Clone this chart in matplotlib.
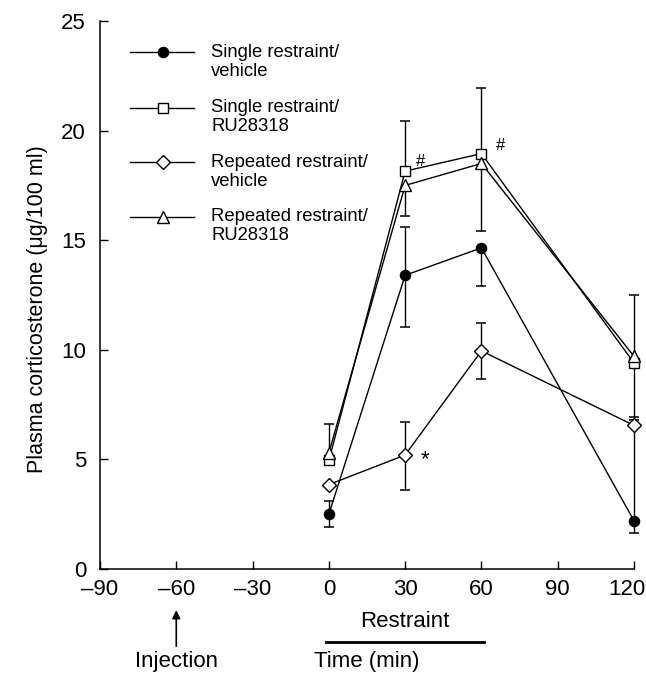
import matplotlib
matplotlib.use("Agg")
import matplotlib.pyplot as plt
import numpy as np

plt.rcParams['font.family'] = ['Liberation Sans', 'DejaVu Sans']

# ---- data ----
time_min = [0, 30, 60, 120]
single_vehicle = [2.5, 13.4, 14.65, 2.2]
single_vehicle_err_lo = [0.6, 2.35, 1.75, 0.55]
single_vehicle_err_hi = [0.6, 2.2, 0.0, 4.3]
single_ru = [4.95, 18.15, 18.95, 9.4]
single_ru_err_lo = [0.0, 0.0, 0.0, 0.0]
single_ru_err_hi = [0.0, 2.3, 3.0, 3.1]
repeated_vehicle = [3.85, 5.2, 9.95, 6.55]
repeated_vehicle_err_lo = [0.0, 1.6, 1.27, 0.0]
repeated_vehicle_err_hi = [0.0, 1.5, 1.28, 0.37]
repeated_ru = [5.3, 17.5, 18.5, 9.7]
repeated_ru_err_lo = [0.0, 1.4, 3.1, 2.9]
repeated_ru_err_hi = [1.3, 0.0, 0.0, 0.0]

labels = ["Single restraint/\nvehicle", "Single restraint/\nRU28318",
          "Repeated restraint/\nvehicle", "Repeated restraint/\nRU28318"]
xticks = [-90, -60, -30, 0, 30, 60, 90, 120]
xticklabels = ["\u201390", "\u201360", "\u201330", "0", "30", "60", "90", "120"]
yticks = [0, 5, 10, 15, 20, 25]

W, H = 646, 680
fig = plt.figure(figsize=(W / 100, H / 100), dpi=100)
ax_l, ax_r, ax_t, ax_b = 100, 634, 21, 569
ax = fig.add_axes([ax_l / W, 1 - ax_b / H, (ax_r - ax_l) / W, (ax_b - ax_t) / H])

series = [
    (single_vehicle, single_vehicle_err_lo, single_vehicle_err_hi,
     dict(marker='o', mfc='black', ms=7.3)),
    (single_ru, single_ru_err_lo, single_ru_err_hi,
     dict(marker='s', mfc='white', ms=7.6)),
    (repeated_vehicle, repeated_vehicle_err_lo, repeated_vehicle_err_hi,
     dict(marker='D', mfc='white', ms=7.3)),
    (repeated_ru, repeated_ru_err_lo, repeated_ru_err_hi,
     dict(marker='^', mfc='white', ms=8.6)),
]

LW = 1.0
for vals, lo, hi, st in series:
    x = np.array(time_min, float)
    y = np.array(vals, float)
    lo = np.array(lo, float)
    hi = np.array(hi, float)
    ax.vlines(x, y - lo, y + hi, color='black', lw=1.0, zorder=2, clip_on=False)
    m_lo = lo > 0
    m_hi = hi > 0
    ax.plot(x[m_lo], (y - lo)[m_lo], ls='none', marker='_', ms=7.5,
            mew=1.1, color='black', zorder=2, clip_on=False)
    ax.plot(x[m_hi], (y + hi)[m_hi], ls='none', marker='_', ms=7.5,
            mew=1.1, color='black', zorder=2, clip_on=False)
    ax.plot(x, y, color='black', lw=LW, zorder=3, clip_on=False)
    ax.plot(x, y, ls='none', mec='black', mew=1.0, zorder=4, clip_on=False, **st)

# legend drawn manually
row_y = [0.943, 0.842, 0.742, 0.643]
for (vals, lo, hi, st), lab, yy in zip(series, labels, row_y):
    ax.plot([0.056, 0.176], [yy, yy], transform=ax.transAxes, color='black',
            lw=LW, clip_on=False)
    ax.plot([0.118], [yy], transform=ax.transAxes, mec='black', color='black',
            mew=1.0, clip_on=False, **st)
    ax.text(0.208, yy - 0.017, lab, transform=ax.transAxes, fontsize=13.3,
            va='center', ha='left', linespacing=1.15)

# annotations
ax.text(36, 18.6, "#", fontsize=12, ha='center', va='center')
ax.text(67.5, 19.3, "#", fontsize=12, ha='center', va='center')
ax.text(38, 5.0, "*", fontsize=16, ha='center', va='center')

ax.set_xlim(-90, 120)
ax.set_ylim(0, 25)
ax.set_xticks(xticks)
ax.set_xticklabels(xticklabels[:-1] + [""])
ax.set_yticks(yticks)
ax.tick_params(direction='in', length=6, width=1, labelsize=16)
ax.tick_params(axis='x', pad=7)
ax.tick_params(axis='y', pad=10)
ax.annotate(xticklabels[-1], xy=(120, 0), xycoords='data',
            xytext=(-5, -7.5), textcoords='offset points',
            ha='center', va='top', fontsize=16, annotation_clip=False)
for s in ['top', 'right']:
    ax.spines[s].set_visible(False)
for s in ['left', 'bottom']:
    ax.spines[s].set_linewidth(1.1)

ax.set_ylabel("Plasma corticosterone (\u03bcg/100 ml)", fontsize=15.5)
ax.yaxis.set_label_coords(-0.098, 0.475)

# below-axis annotations
ax.text(30, -2.4, "Restraint", fontsize=16, ha='center', va='center', clip_on=False)
ax.plot([-1, 61], [-3.33, -3.33], color='black', lw=2, clip_on=False)
ax.text(15, -4.2, "Time (min)", fontsize=16, ha='center', va='center', clip_on=False)
ax.text(-60, -4.2, "Injection", fontsize=16, ha='center', va='center', clip_on=False)
ax.annotate("", xy=(-60, -1.75), xytext=(-60, -3.65),
            arrowprops=dict(arrowstyle='-|>', color='black', lw=1.2,
                            mutation_scale=12), annotation_clip=False)

fig.savefig("out.png", dpi=100)
